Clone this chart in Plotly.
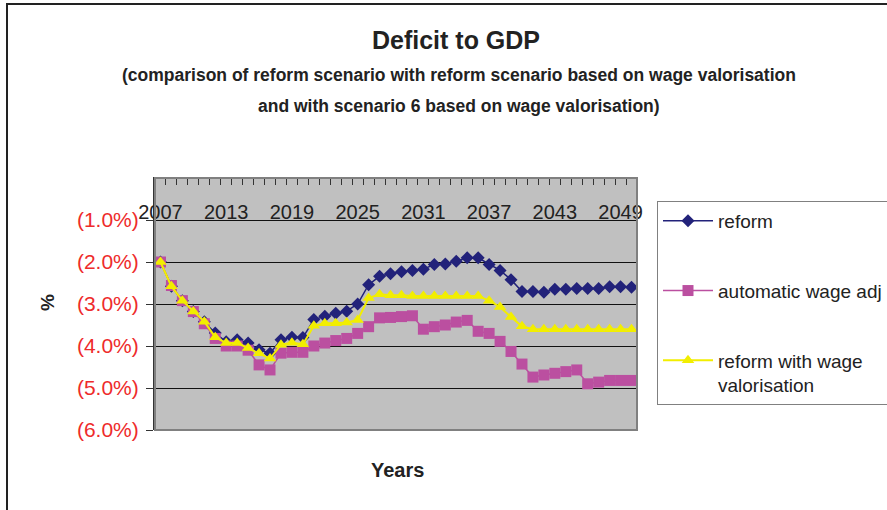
import plotly.graph_objects as go

years = list(range(2007, 2051))
tick_years = [2007, 2013, 2019, 2025, 2031, 2037, 2043, 2049]

reform = [-2.00, -2.58, -2.92, -3.18, -3.42, -3.69, -3.90, -3.85, -3.93, -4.09,
          -4.17, -3.85, -3.79, -3.80, -3.37, -3.29, -3.22, -3.17, -3.00, -2.54,
          -2.34, -2.28, -2.23, -2.20, -2.17, -2.06, -2.05, -1.98, -1.90, -1.90,
          -2.06, -2.20, -2.42, -2.70, -2.70, -2.72, -2.65, -2.65, -2.63, -2.63,
          -2.63, -2.59, -2.59, -2.60]
auto_wage_adj = [-2.00, -2.56, -2.92, -3.18, -3.47, -3.82, -4.00, -4.00, -4.10, -4.45,
                 -4.57, -4.17, -4.15, -4.15, -4.00, -3.93, -3.87, -3.82, -3.70, -3.54,
                 -3.33, -3.32, -3.30, -3.28, -3.60, -3.54, -3.50, -3.43, -3.39, -3.65,
                 -3.70, -3.89, -4.13, -4.43, -4.74, -4.69, -4.65, -4.61, -4.57, -4.90,
                 -4.86, -4.82, -4.82, -4.82]
reform_wage_val = [-2.00, -2.58, -2.92, -3.18, -3.42, -3.79, -3.93, -3.93, -4.05, -4.17,
                   -4.30, -3.97, -3.92, -3.96, -3.52, -3.46, -3.46, -3.44, -3.38, -2.86,
                   -2.77, -2.79, -2.79, -2.81, -2.81, -2.81, -2.81, -2.81, -2.81, -2.81,
                   -2.92, -3.07, -3.31, -3.53, -3.60, -3.60, -3.60, -3.60, -3.60, -3.60,
                   -3.60, -3.60, -3.60, -3.60]

y_ticks = [-1, -2, -3, -4, -5, -6]
y_ticktext = ["(1.0%)", "(2.0%)", "(3.0%)", "(4.0%)", "(5.0%)", "(6.0%)"]

FONT = "Liberation Sans, Arial, sans-serif"

fig = go.Figure()
fig.add_trace(go.Scatter(
    x=years, y=reform, name="reform", mode="lines+markers",
    line=dict(color="#22227A", width=1.5),
    marker=dict(symbol="diamond", size=10, color="#22227A"),
    legendgroup="a"))
fig.add_trace(go.Scatter(
    x=years, y=auto_wage_adj, name="automatic wage adj", mode="lines+markers",
    line=dict(color="#BB4FA0", width=1.5),
    marker=dict(symbol="square", size=11, color="#BB4FA0"),
    legendgroup="b"))
fig.add_trace(go.Scatter(
    x=years, y=reform_wage_val, name="reform with wage<br>valorisation", mode="lines+markers",
    line=dict(color="#F2EE00", width=2),
    marker=dict(symbol="triangle-up", size=11, color="#F2EE00"),
    legendgroup="c"))

L, R, T, B = 155, 637, 178, 430
W, H = 887, 510

def px(xp):
    return (xp - L) / (R - L)

def py(yp):
    return (B - yp) / (B - T)

fig.update_layout(
    width=W, height=H,
    margin=dict(l=L, r=W - R, t=T, b=H - B, autoexpand=False),
    paper_bgcolor="white",
    plot_bgcolor="#C0C0C0",
    font=dict(family=FONT, color="#222222"),
    showlegend=True,
    legend=dict(
        x=px(657), y=py(201), xanchor="left", yanchor="top",
        bgcolor="white", bordercolor="#808080", borderwidth=1,
        font=dict(family=FONT, size=19, color="#222222"),
        traceorder="grouped", tracegroupgap=42, valign="top",
        entrywidth=245, itemwidth=50,
    ),
    xaxis=dict(
        range=[2006.5, 2050.5], side="top",
        tickmode="array", tickvals=tick_years, ticktext=[str(t) for t in tick_years],
        ticks="", ticklabelposition="inside", ticklabelstandoff=28,
        ticklabeloverflow="allow", automargin=False,
        tickfont=dict(family=FONT, size=20, color="#222222"),
        showgrid=False, zeroline=False,
        showline=True, linecolor="#333333", linewidth=1,
        minor=dict(ticks="inside", tickmode="linear", tick0=2006.5, dtick=1,
                   ticklen=7, tickcolor="#333333", showgrid=False),
    ),
    yaxis=dict(
        range=[-6, 0], tickmode="array", tickvals=y_ticks, ticktext=y_ticktext,
        ticks="outside", ticklen=7, tickcolor="#333333",
        ticklabelstandoff=3, automargin=False,
        tickfont=dict(family=FONT, size=21, color="#EE2B2B"),
        showgrid=True, gridcolor="#111111", gridwidth=1,
        zeroline=False, showline=True, linecolor="#333333", linewidth=2,
    ),
    title=dict(
        text="<b>Deficit to GDP</b>",
        x=px(456), xref="paper", xanchor="center",
        y=1 - 40 / H, yanchor="middle",
        font=dict(family=FONT, size=25, color="#222222"),
    ),
    annotations=[
        dict(text="<b>(comparison of reform scenario with reform scenario based on wage valorisation</b>",
             xref="paper", yref="paper", x=px(459), y=py(75), xanchor="center", yanchor="middle",
             showarrow=False, font=dict(family=FONT, size=17.5, color="#222222")),
        dict(text="<b>and with scenario 6 based on wage valorisation)</b>",
             xref="paper", yref="paper", x=px(459), y=py(106), xanchor="center", yanchor="middle",
             showarrow=False, font=dict(family=FONT, size=17.5, color="#222222")),
        dict(text="<b>Years</b>", xref="paper", yref="paper", x=px(397), y=py(470),
             xanchor="center", yanchor="middle",
             showarrow=False, font=dict(family=FONT, size=20, color="#222222")),
        dict(text="<b>%</b>", xref="paper", yref="paper", x=px(47), y=py(303),
             xanchor="center", yanchor="middle",
             showarrow=False, textangle=-90,
             font=dict(family=FONT, size=19, color="#222222")),
    ],
    shapes=[
        dict(type="rect", xref="paper", yref="paper", x0=0, x1=1, y0=0, y1=1,
             line=dict(color="#808080", width=2), layer="above"),
        dict(type="line", xref="paper", yref="paper",
             x0=px(7), x1=px(7), y0=py(520), y1=py(4),
             line=dict(color="#222222", width=2), layer="below"),
        dict(type="line", xref="paper", yref="paper",
             x0=px(6), x1=px(900), y0=py(4), y1=py(4),
             line=dict(color="#222222", width=2), layer="below"),
    ],
)

fig.write_html("out.html", config={"displayModeBar": False},
               post_script="document.body.style.margin='0px';")
